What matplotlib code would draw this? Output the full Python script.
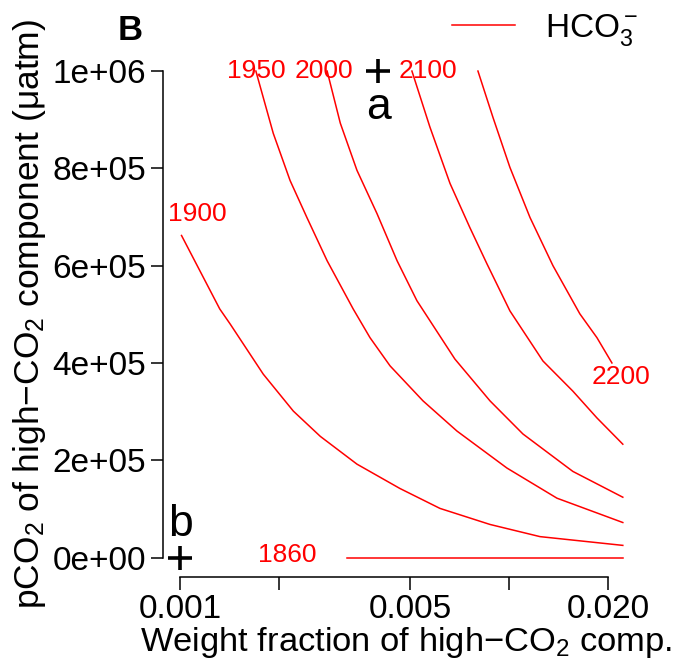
import matplotlib
matplotlib.use("Agg")
import matplotlib.pyplot as plt
from matplotlib.lines import Line2D
from matplotlib.ticker import NullLocator

plt.rcParams["font.family"] = ["Liberation Sans", "DejaVu Sans"]
plt.rcParams["mathtext.fontset"] = "custom"
plt.rcParams["mathtext.rm"] = "Liberation Sans"
plt.rcParams["mathtext.it"] = "Liberation Sans:italic"
plt.rcParams["mathtext.bf"] = "Liberation Sans:bold"

# HCO3- contour lines:
# weight fraction of high-CO2 component vs pCO2 (uatm)
frac_1860 = [0.00322, 0.0222]
pco2_1860 = [0, 0]

frac_1900 = [0.00101, 0.00132, 0.00142, 0.00179, 0.00221, 0.00267, 0.00345,
             0.00466, 0.00617, 0.00876, 0.01243, 0.0222]
pco2_1900 = [662000, 511000, 480000, 377000, 301000, 249000, 192000,
             142000, 101000, 68000, 43000, 25000]

frac_1950 = [0.00170, 0.00192, 0.00216, 0.00243, 0.00280, 0.00336, 0.00378,
             0.00435, 0.00548, 0.00695, 0.00986, 0.0140, 0.0222]
pco2_1950 = [1000000, 872000, 775000, 699000, 610000, 511000, 452000,
             394000, 322000, 260000, 184000, 122000, 72000]

frac_2000 = [0.00280, 0.00307, 0.00345, 0.00397, 0.00457, 0.00525, 0.00685,
             0.00876, 0.01103, 0.01565, 0.0222]
pco2_2000 = [1000000, 893000, 796000, 707000, 610000, 528000, 408000,
             322000, 254000, 177000, 124000]

frac_2100 = [0.00507, 0.00575, 0.00662, 0.00761, 0.00857, 0.01007, 0.01269,
             0.01565, 0.01852, 0.0222]
pco2_2100 = [1000000, 885000, 769000, 678000, 604000, 507000, 404000,
             342000, 287000, 233000]

frac_2200 = [0.00805, 0.00894, 0.01007, 0.01159, 0.01361, 0.01643, 0.01852,
             0.02057]
pco2_2200 = [1000000, 905000, 802000, 699000, 600000, 501000, 452000,
             400000]

levels = ["1860", "1900", "1950", "2000", "2100", "2200"]
contour_frac = [frac_1860, frac_1900, frac_1950, frac_2000, frac_2100, frac_2200]
contour_pco2 = [pco2_1860, pco2_1900, pco2_1950, pco2_2000, pco2_2100, pco2_2200]

# where R put the contour labels
label_frac = [0.00212, 0.00113, 0.00170, 0.00274, 0.00568, 0.02191]
label_pco2 = [6000, 707000, 1000000, 1000000, 1000000, 371000]

# the two end members
point_frac = [0.004, 0.001]
point_pco2 = [1000000, 0]

x_ticks = [0.001, 0.002, 0.005, 0.01, 0.02]
x_labels = ["0.001", "", "0.005", "", "0.020"]
y_ticks = [0, 200000, 400000, 600000, 800000, 1000000]
y_labels = ["0e+00", "2e+05", "4e+05", "6e+05", "8e+05", "1e+06"]

fig = plt.figure(figsize=(6.79, 6.60), dpi=100)
ax = fig.add_axes([163 / 679, 83 / 660, 462 / 679, 525.4 / 660])

for fr, pc in zip(contour_frac, contour_pco2):
    ax.plot(fr, pc, color="red", lw=1.1)
for lev, fx, py in zip(levels, label_frac, label_pco2):
    ax.text(fx, py, lev, color="red", fontsize=19, ha="center", va="center")

ax.plot(point_frac, point_pco2, ls="none", marker="+", color="black",
        markersize=17, markeredgewidth=2.6, clip_on=False)
ax.text(0.004, 925000, "a", fontsize=32, ha="center", va="center")
ax.text(0.001, 68000, "b", fontsize=32, ha="center", va="center")

ax.set_xscale("log")
ax.set_xlim(10 ** (-3.052), 10 ** (-1.647))
ax.set_ylim(-40000, 1040000)
ax.xaxis.set_minor_locator(NullLocator())
ax.set_xticks(x_ticks)
ax.set_xticklabels(x_labels)
ax.set_yticks(y_ticks)
ax.set_yticklabels(y_labels)
ax.tick_params(labelsize=24, length=9, width=1.1, pad=3)

for s in ["top", "right"]:
    ax.spines[s].set_visible(False)
ax.spines["left"].set_bounds(0, 1000000)
ax.spines["bottom"].set_bounds(0.001, 0.02)
ax.spines["left"].set_linewidth(1.1)
ax.spines["bottom"].set_linewidth(1.1)

ax.set_xlabel("Weight fraction of high\u2212CO$_2$ comp.", fontsize=24.8)
ax.xaxis.set_label_coords((406 - 163) / 462, -0.092)
ax.set_ylabel("pCO$_2$ of high\u2212CO$_2$ component (\u03bcatm)", fontsize=25.5, labelpad=3)

fig.text(130 / 679, 1 - 30 / 660, "B", fontsize=25, fontweight="bold",
         ha="center", va="center")

ax.legend([Line2D([], [], color="red", lw=1.1)], ["HCO$_3^-$"],
          loc="center left", bbox_to_anchor=(452 / 679, 1 - 30 / 660),
          bbox_transform=fig.transFigure, frameon=False, fontsize=24,
          borderpad=0, borderaxespad=0, handlelength=1.9, handletextpad=0.9)

fig.savefig("out.png", dpi=100)
